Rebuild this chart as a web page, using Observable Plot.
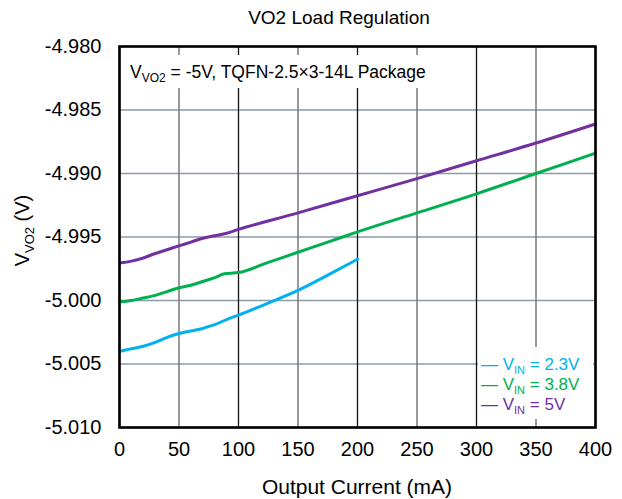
<!DOCTYPE html>
<html><head><meta charset="utf-8">
<script src="https://cdn.jsdelivr.net/npm/d3@7"></script>
<script src="https://cdn.jsdelivr.net/npm/@observablehq/plot@0.6"></script>
<style>
body{margin:0;background:#fff}
svg{font-family:"Liberation Sans",Arial,sans-serif}
</style>
</head><body><div id="chart"></div>
<script>
// ---- data ----
const xTicks = [0, 50, 100, 150, 200, 250, 300, 350, 400];
const yTicks = [-5.010, -5.005, -5.000, -4.995, -4.990, -4.985, -4.980];

const current23 = [0, 5, 10, 20, 30, 40, 50, 60, 70, 75, 80, 90, 100, 125, 150, 175, 200];
const vo2_23    = [-5.0040, -5.0039, -5.0038, -5.0036, -5.0033, -5.0029, -5.0026, -5.0024, -5.0022, -5.00205, -5.0019, -5.0015, -5.00115, -5.0002, -4.9992, -4.9980, -4.99675];

const current38 = [0, 10, 20, 30, 40, 50, 60, 70, 80, 88, 100, 125, 150, 175, 200, 250, 300, 350, 400];
const vo2_38    = [-5.0001, -5.0000, -4.9998, -4.9996, -4.9993, -4.9990, -4.9988, -4.9985, -4.9982, -4.9979, -4.9978, -4.9970, -4.9962, -4.9954, -4.9946, -4.9931, -4.9916, -4.9900, -4.9884];

const current5  = [0, 10, 20, 30, 40, 50, 60, 70, 80, 90, 100, 150, 200, 250, 300, 350, 400];
const vo2_5     = [-4.99705, -4.9969, -4.99665, -4.9963, -4.9960, -4.9957, -4.9954, -4.9951, -4.9949, -4.9947, -4.9944, -4.9931, -4.99175, -4.9904, -4.9890, -4.9876, -4.9861];

const seriesNames = ["2.3V", "3.8V", "5V"];
const seriesColors = ["#00b0f0", "#00b050", "#7030a0"];

const toRows = (xs, ys, s) => xs.map((x, i) => ({x, y: ys[i], s}));
const rows = [
  ...toRows(current23, vo2_23, seriesNames[0]),
  ...toRows(current38, vo2_38, seriesNames[1]),
  ...toRows(current5, vo2_5, seriesNames[2])
];

const W = 622, H = 499;
const plot = Plot.plot({
  width: W, height: H,
  marginLeft: 119, marginRight: 27, marginTop: 46, marginBottom: 72,
  style: {fontFamily: '"Liberation Sans", Arial, sans-serif', fontSize: "20px", color: "#000", background: "#fff", overflow: "visible"},
  x: {domain: [0, 400], ticks: xTicks, tickSize: 0, tickPadding: 14, label: null, tickFormat: d => String(d)},
  y: {domain: [-5.010, -4.980], ticks: yTicks, tickSize: 0, tickPadding: 18, label: null, tickFormat: d => d.toFixed(3)},
  color: {domain: seriesNames, range: seriesColors},
  marks: [
    Plot.ruleY(yTicks, {stroke: "#8c9aaa", strokeWidth: 1.6}),
    Plot.ruleX(xTicks.filter((d, i) => i % 2 === 1), {stroke: "#777", strokeWidth: 1.5}),
    Plot.ruleX(xTicks.filter((d, i) => i % 2 === 0), {stroke: "#111", strokeWidth: 1.3}),
    Plot.line(rows, {x: "x", y: "y", z: "s", stroke: "s", strokeWidth: 3, curve: "monotone-x"}),
    Plot.frame({stroke: "#000", strokeWidth: 2.6})
  ]
});
document.getElementById("chart").appendChild(plot);

const svg = d3.select(plot);
const sx = plot.scale("x"), sy = plot.scale("y");
const x0 = sx.apply(0), x1 = sx.apply(400);
const yTop = sy.apply(-4.980), yBot = sy.apply(-5.010);

// title
svg.append("text").attr("x", 339).attr("y", 24).attr("text-anchor", "middle")
  .attr("font-size", 19).attr("fill", "#000").text("VO2 Load Regulation");

// x label
svg.append("text").attr("x", 357).attr("y", 494).attr("text-anchor", "middle")
  .attr("font-size", 21).attr("fill", "#000").text("Output Current (mA)");

// y label
const yl = svg.append("text").attr("transform", `translate(29,${(yTop + yBot) / 2 - 6}) rotate(-90)`)
  .attr("text-anchor", "middle").attr("font-size", 20).attr("fill", "#000");
yl.append("tspan").text("V");
yl.append("tspan").attr("font-size", 13).attr("dy", 5).text("VO2");
yl.append("tspan").attr("dy", -5).text(" (V)");

// annotation
svg.append("rect").attr("x", x0 + 3).attr("y", 55).attr("width", 315).attr("height", 33).attr("fill", "#fff");
const ann = svg.append("text").attr("x", x0 + 11).attr("y", 78).attr("text-anchor", "start")
  .attr("font-size", 17.5).attr("fill", "#000");
ann.append("tspan").text("V");
ann.append("tspan").attr("font-size", 12).attr("dy", 4).text("VO2");
ann.append("tspan").attr("dy", -4).text(" = -5V, TQFN-2.5×3-14L Package");

// legend
svg.append("rect").attr("x", 478).attr("y", 347).attr("width", x1 - 478 - 2).attr("height", 72).attr("fill", "#fff");
seriesNames.forEach((n, i) => {
  const y = 370 + i * 20;
  const t = svg.append("text").attr("x", 481).attr("y", y).attr("text-anchor", "start")
    .attr("font-size", 17).attr("fill", seriesColors[i]);
  t.append("tspan").text("— V");
  t.append("tspan").attr("font-size", 11).attr("dy", 4).text("IN");
  t.append("tspan").attr("dy", -4).text(" = " + n);
});
</script>
</body></html>
